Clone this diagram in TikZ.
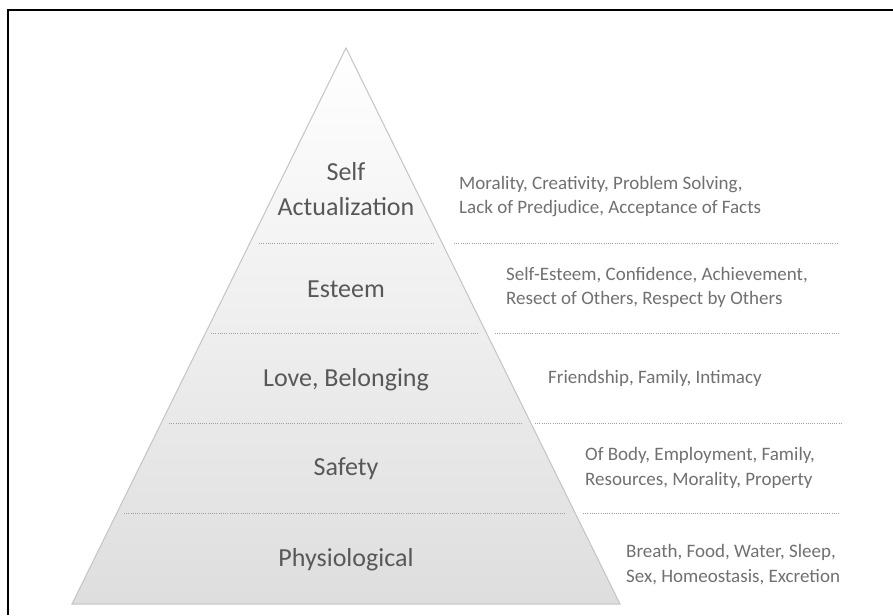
\documentclass[tikz,border=0pt]{standalone}
\usepackage{fontspec}
\setmainfont{Carlito}
\definecolor{edgegray}{HTML}{C4C4C4}
\definecolor{labelgray}{HTML}{585858}
\definecolor{descgray}{HTML}{707070}
\begin{document}
\begin{tikzpicture}[x=1pt,y=-1pt]
    \tikzstyle{level}=[inner sep=0pt,align=center,text=labelgray,font=\fontsize{26}{35}\selectfont];
    \tikzstyle{desc}=[inner sep=0pt,anchor=west,align=left,text=descgray,font=\fontsize{19}{24.5}\selectfont];
    \tikzstyle{sep}=[draw=gray!75,line width=0.8pt,dash pattern=on 1pt off 1.2pt];
    \useasboundingbox (0,0) rectangle (893,615);
    % frame
    \draw[line width=2.2pt] (8,615) -- (8,10) -- (893,10);
    % pyramid
    \coordinate (top) at (346,48);
    \coordinate (bl) at (72,604);
    \coordinate (br) at (620,604);
    \shade[top color=white,bottom color=black!13] (top) -- (bl) -- (br) -- cycle;
    \draw[edgegray,line width=1pt] (top) -- (bl) -- (br) -- cycle;
    % separators
    \draw[sep] (259,243) -- (433,243);  \draw[sep] (454,243) -- (839,243);
    \draw[sep] (211,333) -- (478,333);  \draw[sep] (495,333) -- (839,333);
    \draw[sep] (169,423) -- (522,423);  \draw[sep] (535,423) -- (842,423);
    \draw[sep] (124,513) -- (565,513);  \draw[sep] (583,513) -- (840,513);
    % levels
    \node at (346,189.5) (self) [level] {Self\\Actualization};
    \node at (346,289)   (esteem) [level] {Esteem};
    \node at (346,380)   (love) [level] {Love, Belonging};
    \node at (346,469)   (safety) [level] {Safety};
    \node at (346,560)   (phys) [level] {Physiological};
    % needs
    \node at (459,196.5) (selfd) [desc] {Morality, Creativity, Problem Solving,\\Lack of Predjudice, Acceptance of Facts};
    \node at (506,287.5) (esteemd) [desc] {Self-Esteem, Confidence, Achievement,\\Resect of Others, Respect by Others};
    \node at (548,378)   (loved) [desc] {Friendship, Family, Intimacy};
    \node at (585,468)   (safetyd) [desc] {Of Body, Employment, Family,\\Resources, Morality, Property};
    \node at (626,564.5) (physd) [desc] {Breath, Food, Water, Sleep,\\Sex, Homeostasis, Excretion};
\end{tikzpicture}
\end{document}
